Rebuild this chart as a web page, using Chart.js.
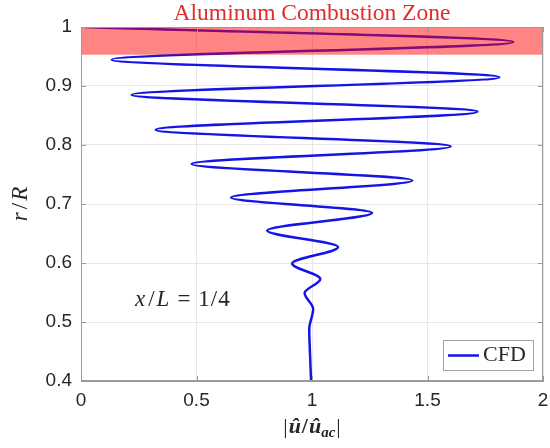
<!DOCTYPE html>
<html>
<head>
<meta charset="utf-8">
<script src="https://cdn.jsdelivr.net/npm/chart.js@4.4.0/dist/chart.umd.min.js"></script>
<style>
    html, body { margin: 0; padding: 0; background: #fff; }
</style>
</head>
<body>
<canvas id="graficoPerfil" width="550" height="448"></canvas>
<script>
'use strict';

// r/R da parede (1) até 0.4 e |u/u_ac| em cada ponto de virada da curva
const raio = [1.000, 0.9746, 0.9446, 0.915, 0.885, 0.8565, 0.826, 0.7976, 0.768, 0.740, 0.711,
    0.685, 0.655, 0.627, 0.599, 0.573, 0.549, 0.522, 0.488, 0.450, 0.400];
const amplitude = [0.017, 1.871, 0.133, 1.811, 0.219, 1.716, 0.323, 1.600, 0.479, 1.434, 0.650,
    1.260, 0.806, 1.113, 0.914, 1.036, 0.968, 1.005, 0.988, 0.991, 0.996];

const ticksX = [0, 0.5, 1, 1.5, 2];
const ticksY = [0.4, 0.5, 0.6, 0.7, 0.8, 0.9, 1];
const zonaCombustao = [0.953, 1.0];   // faixa de r/R da zona de combustão do alumínio
//========================================================================================

const serifa = '"Liberation Serif", "Times New Roman", serif';
const fonteEixo = { family: '"Liberation Sans", Arial, sans-serif', size: 19 };

// escreve pedaços de texto em sequência (fonte, deslocamento e espaço de cada um)
function escreve(ctx, partes, x, y, alinhar) {
    let largura = 0;
    partes.forEach(p => {
        ctx.font = p.f;
        p.w = ctx.measureText(p.t).width + (p.g || 0);
        largura += p.w;
    });
    let cx = alinhar === 'center' ? x - largura / 2 : x;
    partes.forEach(p => {
        ctx.font = p.f;
        ctx.fillText(p.t, cx, y + (p.dy || 0));
        cx += p.w;
    });
}

const desenhaExtras = {
    id: 'desenhaExtras',
    afterDatasetsDraw(chart) {
        const { ctx, chartArea: a, scales: { x, y } } = chart;
        ctx.save();
        // faixa vermelha translúcida por cima da curva
        const yTopo = y.getPixelForValue(zonaCombustao[1]);
        const yBase = y.getPixelForValue(zonaCombustao[0]);
        ctx.fillStyle = 'rgba(255, 0, 0, 0.48)';
        ctx.fillRect(a.left, yTopo, a.right - a.left, yBase - yTopo);

        // caixa do gráfico e marcas internas nos quatro lados
        ctx.strokeStyle = '#9a9a9a';
        ctx.lineWidth = 1;
        ctx.strokeRect(Math.round(a.left) + 0.5, Math.round(a.top) + 0.5,
            Math.round(a.right - a.left) - 1, Math.round(a.bottom - a.top) - 1);
        ctx.beginPath();
        ticksX.forEach(v => {
            const px = Math.round(x.getPixelForValue(v)) + 0.5;
            ctx.moveTo(px, a.bottom); ctx.lineTo(px, a.bottom - 5);
            ctx.moveTo(px, a.top); ctx.lineTo(px, a.top + 5);
        });
        ticksY.forEach(v => {
            const py = Math.round(y.getPixelForValue(v)) + 0.5;
            ctx.moveTo(a.left, py); ctx.lineTo(a.left + 5, py);
            ctx.moveTo(a.right, py); ctx.lineTo(a.right - 5, py);
        });
        ctx.stroke();
        ctx.restore();
    },
    afterDraw(chart) {
        const { ctx, chartArea: a } = chart;
        const meio = (a.left + a.right) / 2;
        ctx.save();
        ctx.textBaseline = 'alphabetic';

        // título
        ctx.fillStyle = '#e32b2b';
        ctx.textAlign = 'left';
        escreve(ctx, [{ t: 'Aluminum Combustion Zone', f: '23.5px ' + serifa }], meio, 20, 'center');

        ctx.fillStyle = '#262626';
        // rótulo do eixo x
        escreve(ctx, [
            { t: '|', f: '22px ' + serifa, g: 1 },
            { t: 'û', f: 'bold italic 22px ' + serifa, g: 1 },
            { t: '/', f: 'bold 22px ' + serifa, g: 1 },
            { t: 'û', f: 'bold italic 22px ' + serifa, g: 0 },
            { t: 'ac', f: 'bold italic 15px ' + serifa, g: 1, dy: 4 },
            { t: '|', f: '22px ' + serifa }
        ], meio, 433, 'center');

        // rótulo do eixo y, girado
        ctx.save();
        ctx.translate(27, 204);
        ctx.rotate(-Math.PI / 2);
        escreve(ctx, [
            { t: 'r', f: 'italic 23px ' + serifa, g: 3 },
            { t: '/', f: '23px ' + serifa, g: 2 },
            { t: 'R', f: 'italic 23px ' + serifa }
        ], 0, 0, 'center');
        ctx.restore();

        // posição axial
        escreve(ctx, [
            { t: 'x', f: 'italic 23px ' + serifa, g: 3 },
            { t: '/', f: '23px ' + serifa, g: 2 },
            { t: 'L', f: 'italic 23px ' + serifa, g: 8 },
            { t: '=', f: '23px ' + serifa, g: 8 },
            { t: '1', f: '23px ' + serifa, g: 1 },
            { t: '/', f: '23px ' + serifa, g: 1 },
            { t: '4', f: '23px ' + serifa }
        ], 135, 306);

        // legenda
        ctx.fillStyle = '#fff';
        ctx.strokeStyle = '#a3a3a3';
        ctx.lineWidth = 1;
        ctx.fillRect(443.5, 340.5, 90, 30);
        ctx.strokeRect(443.5, 340.5, 90, 30);
        ctx.strokeStyle = '#1414e6';
        ctx.lineWidth = 2.5;
        ctx.beginPath();
        ctx.moveTo(448, 355.5);
        ctx.lineTo(479, 355.5);
        ctx.stroke();
        ctx.fillStyle = '#262626';
        escreve(ctx, [{ t: 'CFD', f: '22px ' + serifa }], 483, 361);
        ctx.restore();
    }
};
//========================================================================================

const canvasPerfil = document.getElementById('graficoPerfil');
const graficoPerfil = new Chart(canvasPerfil, {
    type: 'line',
    data: {
        datasets: [{
            label: 'CFD',
            data: raio.map((r, i) => ({ x: amplitude[i], y: r })),
            borderColor: '#1414e6',
            borderWidth: 2.5,
            pointRadius: 0,
            fill: false,
            cubicInterpolationMode: 'monotone'
        }]
    },
    options: {
        indexAxis: 'y',
        responsive: false,
        animation: false,
        devicePixelRatio: 1,
        layout: { padding: { top: 27, right: 7, left: 0, bottom: 0 } },
        plugins: {
            legend: { display: false },
            title: { display: false },
            tooltip: { enabled: false }
        },
        scales: {
            x: {
                type: 'linear',
                position: 'bottom',
                min: 0,
                max: 2,
                afterFit: escala => {
                    escala.height = 67;
                    escala.paddingLeft = 0;
                    escala.paddingRight = 0;
                },
                afterBuildTicks: escala => { escala.ticks = ticksX.map(v => ({ value: v })); },
                ticks: { autoSkip: false, maxRotation: 0, font: fonteEixo, color: '#262626', padding: 8, callback: v => String(v) },
                grid: { color: '#e6e6e6', drawTicks: false },
                border: { color: '#9a9a9a' }
            },
            y: {
                type: 'linear',
                position: 'left',
                min: 0.4,
                max: 1,
                afterFit: escala => {
                    escala.width = 81;
                    escala.paddingTop = 0;
                    escala.paddingBottom = 0;
                },
                afterBuildTicks: escala => { escala.ticks = ticksY.map(v => ({ value: v })); },
                ticks: { autoSkip: false, font: fonteEixo, color: '#262626', padding: 9, callback: v => String(v) },
                grid: { color: '#e6e6e6', drawTicks: false },
                border: { color: '#9a9a9a' }
            }
        }
    },
    plugins: [desenhaExtras]
});
</script>
</body>
</html>
